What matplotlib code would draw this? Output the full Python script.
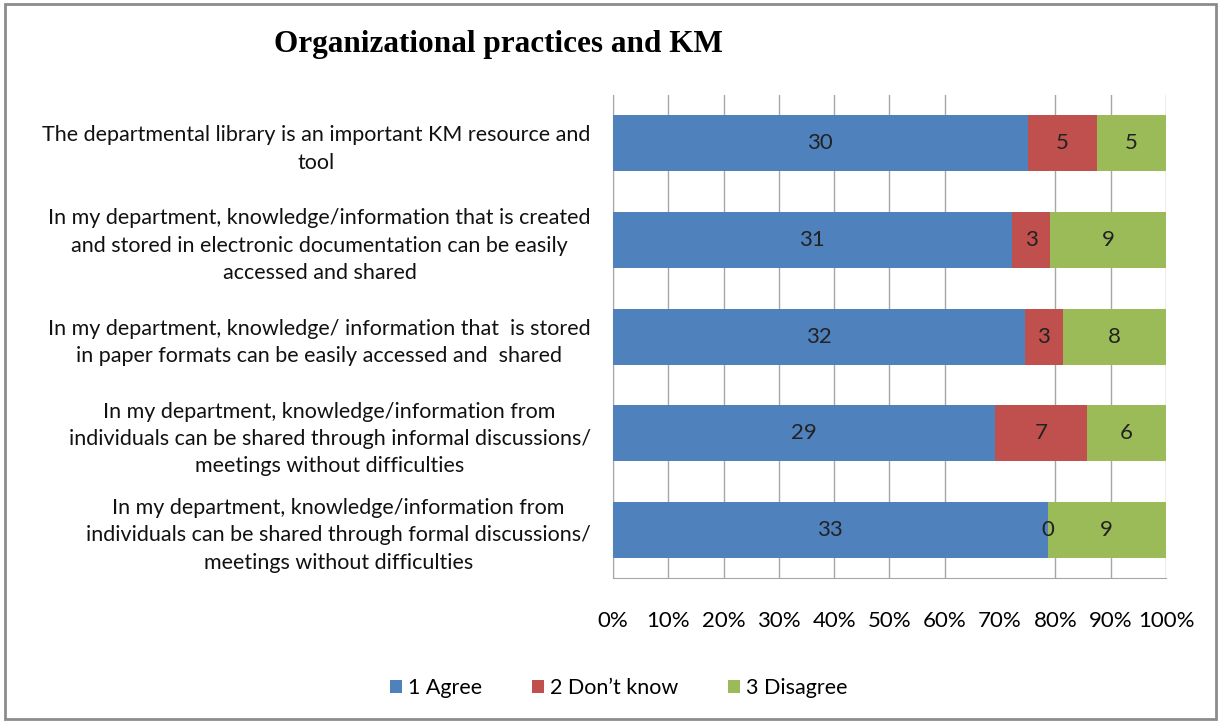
import numpy as np
import matplotlib.pyplot as plt
from matplotlib.patches import Rectangle

categories = [
    "The departmental library is an important KM resource and\ntool",
    "In my department, knowledge/information that is created\nand stored in electronic documentation can be easily\naccessed and shared",
    "In my department, knowledge/ information that  is stored\nin paper formats can be easily accessed and  shared",
    "In my department, knowledge/information from\nindividuals can be shared through informal discussions/\nmeetings without difficulties",
    "In my department, knowledge/information from\nindividuals can be shared through formal discussions/\nmeetings without difficulties",
]
agree = [30, 31, 32, 29, 33]
dont_know = [5, 3, 3, 7, 0]
disagree = [5, 9, 8, 6, 9]
series_names = ["1 Agree", "2 Don\u2019t know", "3 Disagree"]
colors = ["#4F81BD", "#C0504D", "#9BBB59"]

plt.rcParams['font.family'] = ['Lato', 'DejaVu Sans']

data = np.array([agree, dont_know, disagree], dtype=float)
totals = data.sum(axis=0)
shares = data / totals

fig = plt.figure(figsize=(12.21, 7.22), dpi=100)
ax = fig.add_axes([0.502, 0.1994, 0.453, 0.669])

y = np.arange(len(categories))
left = np.zeros(len(categories))
for i in range(3):
    ax.barh(y, shares[i], left=left, height=0.58, color=colors[i],
            label=series_names[i], zorder=3)
    for j in range(len(categories)):
        ax.text(left[j] + shares[i][j] / 2, y[j], "%d" % data[i][j],
                ha='center', va='center', fontsize=16, color='#222222', zorder=4)
    left += shares[i]

ax.set_xlim(0, 1)
ax.set_ylim(len(categories) - 0.5, -0.5)
ax.set_xticks(np.arange(0, 1.01, 0.1))
ax.set_xticklabels(["%d%%" % v for v in range(0, 101, 10)], fontsize=16)
ax.set_yticks(y)
ax.set_yticklabels(categories, fontsize=15.5, multialignment='center', linespacing=1.45,
                   color='#111111')
ax.tick_params(axis='x', length=0, pad=24)
ax.tick_params(axis='y', length=0, pad=16)
ax.grid(axis='x', color='#a6a6a6', linewidth=1, zorder=0)
ax.xaxis.get_gridlines()[7].set_visible(False)
for s in ['top', 'right']:
    ax.spines[s].set_visible(False)
ax.spines['left'].set_color('#a6a6a6')
ax.spines['bottom'].set_color('#a6a6a6')

fig.text(0.408, 0.938, "Organizational practices and KM", ha='center', va='center',
         fontsize=22.5, fontweight='bold', family='Liberation Serif')

fig.legend(loc='center', bbox_to_anchor=(0.507, 0.047), ncol=3, frameon=False,
           fontsize=15.5, handlelength=0.55, handleheight=0.55, columnspacing=2.3,
           handletextpad=0.3)

fig.patches.append(Rectangle((0.004, 0.004), 0.992, 0.99, transform=fig.transFigure,
                             fill=False, edgecolor='#8c8c8c', linewidth=2))

fig.savefig('out.png', dpi=100)
